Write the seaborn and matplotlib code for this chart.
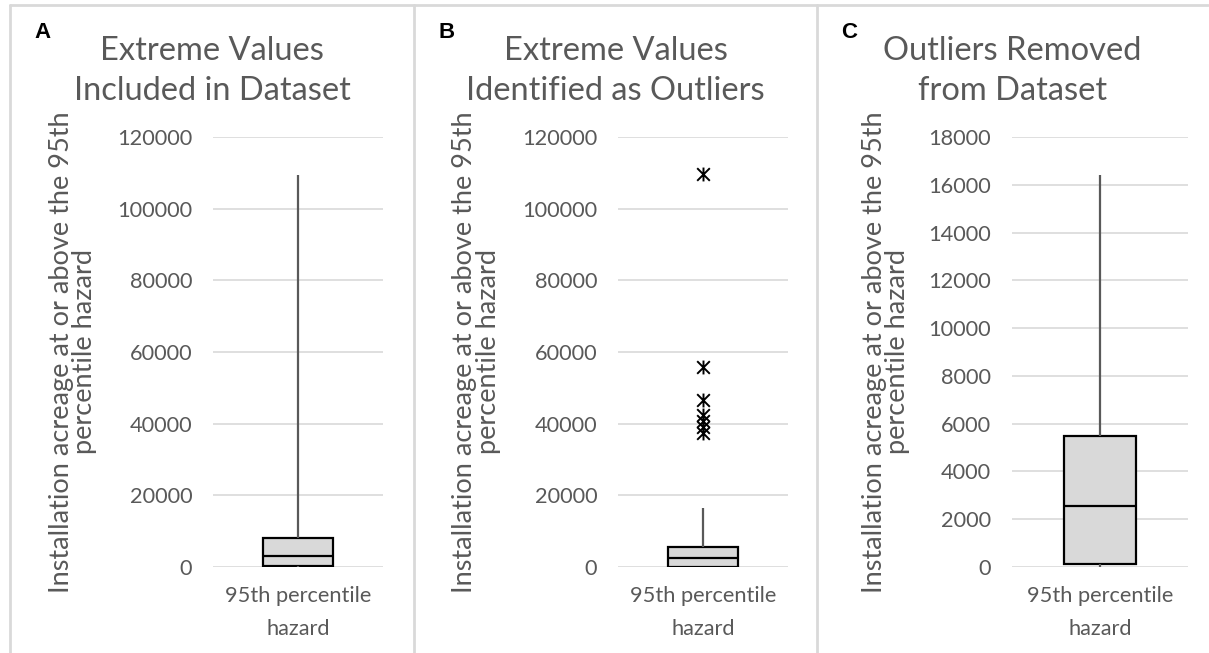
import pandas as pd
import matplotlib
matplotlib.use("Agg")
import matplotlib.pyplot as plt
import seaborn as sns
from matplotlib.lines import Line2D
from matplotlib.path import Path

# --- data: five-number summaries ---
panel_letters = ["A", "B", "C"]
panel_titles = ["Extreme Values\nIncluded in Dataset",
                "Extreme Values\nIdentified as Outliers",
                "Outliers Removed\nfrom Dataset"]
category = "95th percentile\nhazard"

box_min = [0, 0, 0]
box_q1 = [150, 125, 125]
box_median = [3000, 2600, 2570]
box_q3 = [8100, 5550, 5500]
box_max = [109500, 16400, 16400]

outliers_b = [109600, 55800, 46700, 42300, 40800, 39000, 37400]

y_max = [120000, 120000, 18000]
y_step = [20000, 20000, 2000]

ylab = "Installation acreage at or above the 95th\npercentile hazard"

GRAY = "#595959"
LINE = "#D9D9D9"

# X-with-vertical-bar marker (Excel style asterisk)
star = Path([(-1, -1), (1, 1), (-1, 1), (1, -1), (0, -1.1), (0, 1.1)],
            [Path.MOVETO, Path.LINETO, Path.MOVETO, Path.LINETO, Path.MOVETO, Path.LINETO])

sns.set_theme(style="white")
plt.rcParams['font.family'] = ['Lato', 'DejaVu Sans']

W, H = 1209, 653
fig = plt.figure(figsize=(W / 100, H / 100), dpi=100)

# axes rectangles in pixels: left, right ; panels left, right
ax_px = [(213, 383), (618, 788), (1012, 1188)]
panel_px = [(10, 414), (414, 817), (817, 1208)]
label_x = [-0.68, -0.69, -0.577]
top_px, bot_px = 137, 567

for i in range(3):
    l, r = ax_px[i]
    ax = fig.add_axes([l / W, 1 - bot_px / H, (r - l) / W, (bot_px - top_px) / H])
    df = pd.DataFrame({
        "cat": [category] * 5,
        "val": [box_min[i], box_q1[i], box_median[i], box_q3[i], box_max[i]],
    })
    sns.boxplot(data=df, x="cat", y="val", ax=ax, whis=(0, 100), width=0.41,
                showfliers=False, showcaps=False,
                boxprops=dict(facecolor=LINE, edgecolor="black", linewidth=1.6),
                medianprops=dict(color="black", linewidth=1.6),
                whiskerprops=dict(color=GRAY, linewidth=1.6),
                zorder=3)
    if i == 1:
        dfo = pd.DataFrame({"cat": [category] * len(outliers_b), "val": outliers_b})
        sns.stripplot(data=dfo, x="cat", y="val", ax=ax, jitter=False,
                      marker=star, size=10, color="black", linewidth=1.4,
                      edgecolor="black", zorder=4)
    ax.set_ylim(0, y_max[i])
    ax.set_yticks(range(0, y_max[i] + 1, y_step[i]))
    ax.set_xlim(-0.5, 0.5)
    for s in ax.spines.values():
        s.set_visible(False)
    ax.grid(axis="y", color=LINE, linewidth=1.2)
    ax.set_axisbelow(True)
    ax.tick_params(axis="y", length=0, labelsize=15.7, colors=GRAY, pad=15)
    ax.tick_params(axis="x", length=0, labelsize=15.7, colors=GRAY, pad=14)
    for t in ax.get_xticklabels():
        t.set_linespacing(1.8)
    ax.set_xlabel("")
    ax.set_ylabel(ylab, fontsize=19.5, color=GRAY, linespacing=0.92)
    ax.yaxis.set_label_coords(label_x[i], 0.5)

    pl, pr = panel_px[i]
    fig.text((pl + pr) / 2 / W, 1 - 36 / H, panel_titles[i], ha="center", va="top",
             fontsize=23.5, color=GRAY, linespacing=1.4)
    fig.text((pl + 24) / W, 1 - 22 / H, panel_letters[i], ha="left", va="top",
             fontsize=16, fontweight="bold", color="black",
             family=["Liberation Sans", "DejaVu Sans"])

# panel borders
fig.add_artist(Line2D([10 / W, 1208 / W], [1 - 5 / H, 1 - 5 / H], color=LINE, linewidth=2))
for x in [10, 414, 817]:
    fig.add_artist(Line2D([x / W, x / W], [0, 1 - 5 / H], color=LINE, linewidth=2))

fig.savefig("out.png", dpi=100)
